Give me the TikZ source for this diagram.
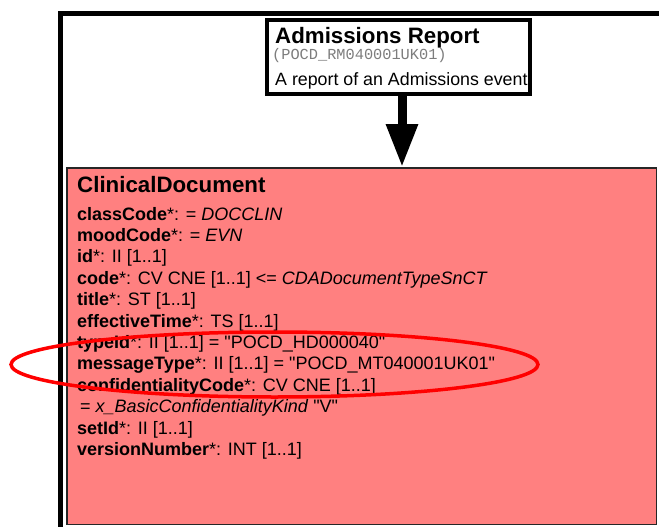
\documentclass[tikz,border=0pt]{standalone}
\usepackage{fontspec}
\setmainfont{Liberation Sans}[Ligatures=TeXOff]
\setmonofont{Liberation Mono}
\usetikzlibrary{arrows.meta}

\definecolor{classpink}{RGB}{255,128,128}
\definecolor{idgray}{RGB}{125,125,125}

\begin{document}
\begin{tikzpicture}[x=1pt, y=-1pt, >=Triangle]

\tikzset{
  reportbox/.style={draw, line width=4pt, fill=white, minimum width=263pt, minimum height=74pt, inner sep=0pt},
  classbox/.style={draw=black!85, line width=1.5pt, fill=classpink, minimum width=589.5pt, minimum height=356.5pt, inner sep=0pt},
  boxtitle/.style={anchor=base west, inner sep=0pt, font=\bfseries\fontsize{22.3}{25}\selectfont},
  attr/.style={anchor=base west, inner sep=0pt, font=\fontsize{18}{21}\selectfont},
  bigarrow/.style={line width=9pt, -{Triangle[width=30pt, length=43pt]}}
}

\useasboundingbox (0,0) rectangle (659,527);
\clip (0,0) rectangle (659,527);

% Outer frame (runs off the page)
\draw[line width=4.5pt] (60.5,545) -- (60.5,13.5) -- (680,13.5);

% Entry point box
\node[reportbox] (report) at (398.5,57) {};
\node[boxtitle] (reporttitle) at (275,43.3) {Admissions Report};
\node[anchor=base west, inner sep=0pt, text=idgray, font=\ttfamily\fontsize{15.3}{17}\selectfont] (reportid) at (272,60) {(POCD\_RM040001UK01)};
\node[anchor=base west, inner sep=0pt, font=\fontsize{17.8}{20}\selectfont] (reportdesc) at (275,85) {A report of an Admissions event};

% Class box
\node[classbox] (clinical) at (361.5,346) {};
\node[boxtitle] (clinicaltitle) at (77,192.3) {ClinicalDocument};

% Attributes
\foreach \n/\t in {
  1/{\textbf{classCode}*: = \textit{DOCCLIN}},
  2/{\textbf{moodCode}*: = \textit{EVN}},
  3/{\textbf{id}*: II [1..1]},
  4/{\textbf{code}*: CV CNE [1..1] <= \textit{CDADocumentTypeSnCT}},
  5/{\textbf{title}*: ST [1..1]},
  6/{\textbf{effectiveTime}*: TS [1..1]},
  7/{\textbf{typeId}*: II [1..1] = "POCD\_HD000040"},
  8/{\textbf{messageType}*: II [1..1] = "POCD\_MT040001UK01"},
  9/{\textbf{confidentialityCode}*: CV CNE [1..1]},
  10/{\hspace{3pt}= \textit{x\_BasicConfidentialityKind} "V"},
  11/{\textbf{setId}*: II [1..1]},
  12/{\textbf{versionNumber}*: INT [1..1]}}
{
  \node[attr] (attr\n) at (77,{220+21.4*(\n-1)}) {\t};
}

% Arrow into the class
\coordinate (tip) at (402,167);
\draw[bigarrow] (report.south -| tip) -- (tip);

% Highlight ring
\draw[red, line width=3.5pt] (274.5,364.5) ellipse [x radius=263.5pt, y radius=32.5pt];

\end{tikzpicture}
\end{document}
